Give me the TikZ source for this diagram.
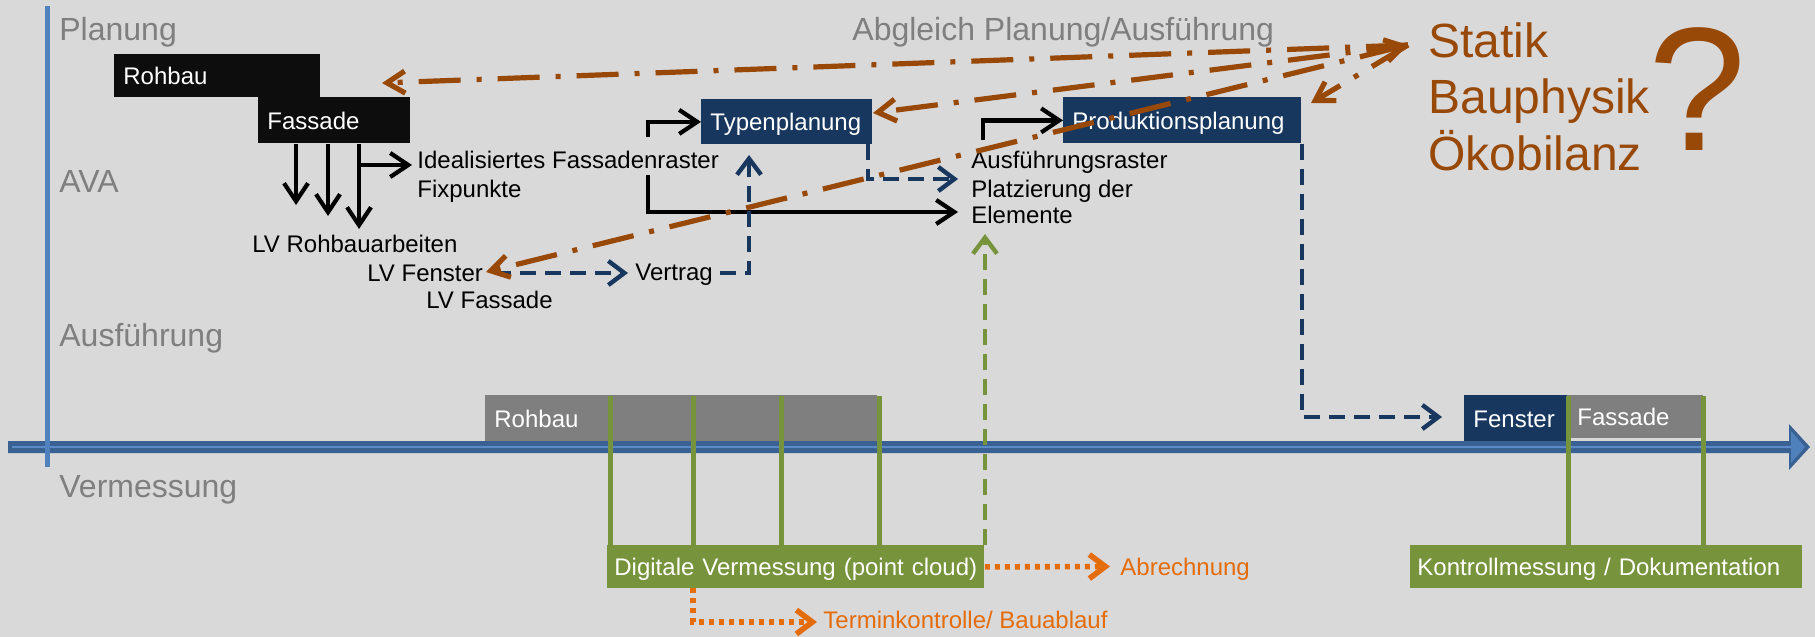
\documentclass[tikz,border=0pt]{standalone}
\usepackage{fontspec}
\setmainfont{Liberation Sans}
\usetikzlibrary{arrows.meta}
\definecolor{bgc}{HTML}{D9D9D9}
\definecolor{labgray}{HTML}{7F7F7F}
\definecolor{boxblack}{HTML}{0D0D0D}
\definecolor{navy}{HTML}{17375E}
\definecolor{boxgraycol}{HTML}{7F7F7F}
\definecolor{olive}{HTML}{77933C}
\definecolor{brownc}{HTML}{984807}
\definecolor{orangec}{HTML}{E46C0A}
\definecolor{vblue}{HTML}{4F81BD}
\definecolor{axdark}{HTML}{3A6193}
\definecolor{axlight}{HTML}{5B8AC4}
\begin{document}
\begin{tikzpicture}[x=0.5pt,y=-0.5pt,
  lblgray/.style={anchor=base west, inner sep=0pt, text=labgray, font=\fontsize{16}{18}\selectfont},
  txtblk/.style={anchor=base west, inner sep=0pt, text=black, font=\fontsize{12}{14}\selectfont},
  txtorange/.style={txtblk, text=orangec},
  txtbrown/.style={anchor=base west, inner sep=0pt, text=brownc, font=\fontsize{24}{28}\selectfont},
  qmark/.style={anchor=base west, inner sep=0pt, text=brownc, font=\fontsize{88}{90}\selectfont},
  boxbase/.style={anchor=north west, inner xsep=4.5pt, inner ysep=0pt, text height=8.6pt, text depth=0pt, align=left, text=white, font=\fontsize{12}{14}\selectfont},
  boxk/.style={boxbase, fill=boxblack},
  boxn/.style={boxbase, fill=navy},
  boxg/.style={boxbase, fill=boxgraycol},
  boxgr/.style={boxbase, fill=olive},
  arrblk/.style={draw=black, line width=2.1pt, -{Straight Barb[length=9pt,width=12pt]}},
  arrnavy/.style={draw=navy, line width=2.2pt, dash pattern=on 8pt off 4.5pt, -{Straight Barb[length=8pt,width=12pt]}},
  arrgreen/.style={draw=olive, line width=2.2pt, dash pattern=on 8pt off 4.5pt, -{Straight Barb[length=8pt,width=12pt]}},
  arrorange/.style={draw=orangec, line width=2.8pt, dash pattern=on 2.5pt off 2.5pt, -{Straight Barb[length=8pt,width=12pt]}},
  arrbrown/.style={draw=brownc, line width=2.6pt, dash pattern=on 21pt off 8pt on 2.5pt off 8pt, -{Straight Barb[length=9pt,width=11pt]}},
  gline/.style={draw=olive, line width=2.5pt},
  vline/.style={draw=vblue, line width=2.5pt}]
\useasboundingbox (0,0) rectangle (1815,637);
\fill[bgc] (0,0) rectangle (1815,637);

% time axis
\fill[axdark] (8,441) -- (1789,441) -- (1789,424) -- (1810,447) -- (1789,470) -- (1789,453) -- (8,453) -- cycle;
\draw[axlight, line width=1pt] (12,447) -- (1796,447);
\fill[vblue] (1791,431) -- (1805,447) -- (1791,463) -- cycle;

% vertical phase line
\draw[vline] (47.5,6) -- (47.5,467);

% phase labels
\node[lblgray] (lplan) at (59,40) {Planung};
\node[lblgray] (lava) at (59,192) {AVA};
\node[lblgray] (laus) at (59,346) {Ausführung};
\node[lblgray] (lverm) at (59,497) {Vermessung};
\node[lblgray] (labg) at (852,40) {Abgleich Planung/Ausführung};

% planning boxes
\node[boxk, text width=94pt, minimum height=21.5pt] (rohbau) at (114,54) {Rohbau};
\node[boxk, text width=67pt, minimum height=23pt] (fassade) at (258,97) {Fassade};
\node[boxn, text width=76.5pt, minimum height=22.5pt] (typ) at (701,99) {Typenplanung};
\node[boxn, text width=110pt, minimum height=23pt] (prod) at (1063,97) {Produktionsplanung};

% execution boxes
\node[boxg, text width=187pt, minimum height=23pt] (rbg) at (485,395) {Rohbau};
\node[boxn, text width=42.5pt, minimum height=23pt] (fen) at (1464,395) {Fenster};
\node[boxg, inner xsep=5pt, text width=58pt, minimum height=21.5pt] (fasg) at (1567,395) {Fassade};
\node[boxgr, inner xsep=3.5pt, text width=181.5pt, minimum height=21.5pt] (dv) at (607,545) {\mbox{Digitale Vermessung (point cloud)}};
\node[boxgr, inner xsep=3.5pt, text width=189pt, minimum height=21.5pt] (km) at (1410,545) {\mbox{Kontrollmessung / Dokumentation}};

% texts
\node[txtblk] (ideal) at (417,168) {Idealisiertes Fassadenraster};
\node[txtblk] (fix) at (417,197) {Fixpunkte};
\node[txtblk] (lvr) at (252,252) {LV Rohbauarbeiten};
\node[txtblk] (lvf) at (367,281) {LV Fenster};
\node[txtblk] (lvfa) at (426,308) {LV Fassade};
\node[txtblk] (vertrag) at (635,280) {Vertrag};
\node[txtblk] (ausr) at (971,168) {Ausführungsraster};
\node[txtblk] (platz) at (971,197) {Platzierung der};
\node[txtblk] (elem) at (971,223) {Elemente};
\node[txtbrown] (statik) at (1428,57) {Statik};
\node[txtbrown] (bauph) at (1428,113) {Bauphysik};
\node[txtbrown] (oeko) at (1428,170) {Ökobilanz};
\node[qmark] (qm) at (1648,150) {?};
\node[txtorange] (abr) at (1120,575) {Abrechnung};
\node[txtorange] (term) at (823,628) {Terminkontrolle/ Bauablauf};

% green measurement lines
\foreach \gx in {610,693,781,879,1568,1703}
  \draw[gline] (\gx,396) -- (\gx,545);

% black arrows
\coordinate (a1e) at (296,205);
\coordinate (a2e) at (328,216);
\coordinate (a3e) at (359,229);
\draw[arrblk] (a1e |- fassade.south) -- (a1e);
\draw[arrblk] (a2e |- fassade.south) -- (a2e);
\draw[arrblk] (a3e |- fassade.south) -- (a3e);
\coordinate (a4s) at (359,165);
\coordinate (a4e) at (412,165);
\draw[arrblk] (a4s) -- (a4e);
\coordinate (b1) at (648,137);
\draw[arrblk] (b1) |- (typ.west);
\coordinate (b2) at (648,175);
\coordinate (b2e) at (958,212);
\draw[arrblk] (b2) |- (b2e);
\coordinate (c1) at (983,140);
\draw[arrblk] (c1) |- (prod.west);

% navy dashed arrows
\coordinate (n1s) at (495,273);
\coordinate (n1e) at (628,273);
\draw[arrnavy] (n1s) -- (n1e);
\coordinate (n2s) at (720,273);
\coordinate (n2e) at (749,155);
\draw[arrnavy] (n2s) -| (n2e);
\coordinate (n3s) at (868,144);
\coordinate (n3e) at (958,179);
\draw[arrnavy] (n3s) |- (n3e);
\coordinate (n4e) at (1442,417);
\draw[arrnavy] (prod.south east) |- (n4e);

% green dashed arrow
\coordinate (g1s) at (985,545);
\coordinate (g1e) at (985,234);
\draw[arrgreen] (g1s) -- (g1e);

% orange dotted arrows
\coordinate (o1s) at (693,588);
\coordinate (o1e) at (817,622);
\draw[arrorange] (o1s) |- (o1e);
\coordinate (o2e) at (1110,566.5);
\draw[arrorange] (dv.east) -- (o2e);

% brown dash-dot arrows
\coordinate (sx) at (1408,45);
\coordinate (br1) at (382,83);
\coordinate (br2) at (873,113);
\coordinate (br3) at (486,272);
\coordinate (br4) at (1311,103);
\draw[arrbrown] (sx) -- (br1);
\draw[arrbrown] (sx) -- (br2);
\draw[arrbrown, {Straight Barb[length=9pt,width=11pt]}-{Straight Barb[length=9pt,width=11pt]}] (sx) -- (br3);
\draw[arrbrown] (sx) -- (br4);
\end{tikzpicture}
\end{document}
